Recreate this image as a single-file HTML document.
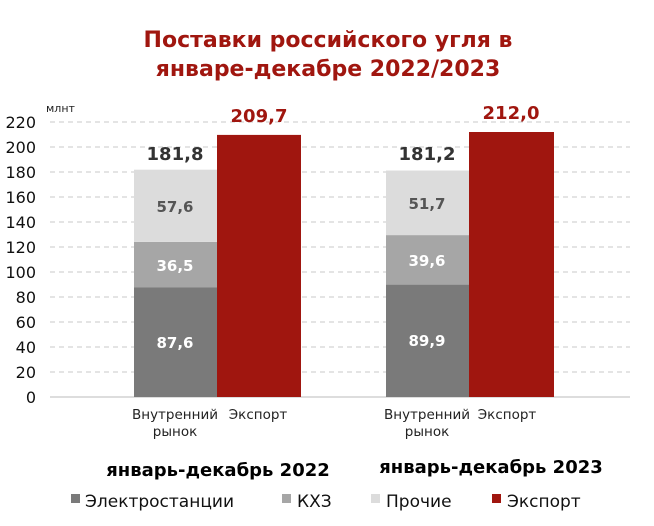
<!DOCTYPE html>
<html><head><meta charset="utf-8"><style>
body{margin:0;background:#fff}
svg text{font-family:"DejaVu Sans","Liberation Sans",sans-serif}
</style></head><body>
<svg width="654" height="521" xmlns="http://www.w3.org/2000/svg">
<text x="328" y="47" text-anchor="middle" font-size="22" font-weight="bold" fill="#a0160f">Поставки российского угля в</text>
<text x="328" y="76" text-anchor="middle" font-size="22" font-weight="bold" fill="#a0160f">январе-декабре 2022/2023</text>
<text x="46" y="112" font-size="11" fill="#222">млнт</text>
<g stroke="#c8c8c8" stroke-width="1" stroke-dasharray="5,4">
<line x1="50" x2="630" y1="122" y2="122"/><line x1="50" x2="630" y1="147" y2="147"/>
<line x1="50" x2="630" y1="172" y2="172"/><line x1="50" x2="630" y1="197" y2="197"/>
<line x1="50" x2="630" y1="222" y2="222"/><line x1="50" x2="630" y1="247" y2="247"/>
<line x1="50" x2="630" y1="272" y2="272"/><line x1="50" x2="630" y1="297" y2="297"/>
<line x1="50" x2="630" y1="322" y2="322"/><line x1="50" x2="630" y1="347" y2="347"/>
<line x1="50" x2="630" y1="372" y2="372"/>
</g>
<line x1="50" x2="630" y1="397" y2="397" stroke="#bbb"/>
<g font-size="16" fill="#111" text-anchor="end">
<text x="36" y="128">220</text><text x="36" y="153">200</text><text x="36" y="178">180</text>
<text x="36" y="203">160</text><text x="36" y="228">140</text><text x="36" y="253">120</text>
<text x="36" y="278">100</text><text x="36" y="303">80</text><text x="36" y="328">60</text>
<text x="36" y="353">40</text><text x="36" y="378">20</text><text x="36" y="403">0</text>
</g>
<rect x="134" y="287.5" width="83" height="109.5" fill="#7a7a7a"/>
<rect x="134" y="241.9" width="83" height="45.6" fill="#a6a6a6"/>
<rect x="134" y="169.7" width="83" height="72.2" fill="#dcdcdc"/>
<rect x="217" y="134.9" width="84" height="262.1" fill="#a0160f"/>
<rect x="386" y="284.6" width="83" height="112.4" fill="#7a7a7a"/>
<rect x="386" y="235.1" width="83" height="49.5" fill="#a6a6a6"/>
<rect x="386" y="170.5" width="83" height="64.6" fill="#dcdcdc"/>
<rect x="469" y="132" width="85" height="265" fill="#a0160f"/>
<g font-size="15" font-weight="bold" text-anchor="middle">
<text x="175" y="348" fill="#fff">87,6</text>
<text x="175" y="271" fill="#fff">36,5</text>
<text x="175" y="212" fill="#555">57,6</text>
<text x="175" y="160" fill="#333" font-size="18">181,8</text>
<text x="259" y="122" fill="#a0160f" font-size="18">209,7</text>
<text x="427" y="346" fill="#fff">89,9</text>
<text x="427" y="266" fill="#fff">39,6</text>
<text x="427" y="209" fill="#555">51,7</text>
<text x="427" y="160" fill="#333" font-size="18">181,2</text>
<text x="511" y="119" fill="#a0160f" font-size="18">212,0</text>
</g>
<g font-size="13.5" fill="#222" text-anchor="middle">
<text x="175" y="419">Внутренний</text><text x="175" y="436">рынок</text>
<text x="258" y="419">Экспорт</text>
<text x="427" y="419">Внутренний</text><text x="427" y="436">рынок</text>
<text x="507" y="419">Экспорт</text>
</g>
<g font-size="18" font-weight="bold" fill="#000" text-anchor="middle">
<text x="218" y="476">январь-декабрь 2022</text>
<text x="491" y="473">январь-декабрь 2023</text>
</g>
<g font-size="17" fill="#111">
<rect x="71" y="494" width="9" height="9" fill="#7a7a7a"/><text x="85" y="507">Электростанции</text>
<rect x="282" y="494" width="9" height="9" fill="#a6a6a6"/><text x="297" y="507">КХЗ</text>
<rect x="371" y="494" width="9" height="9" fill="#dcdcdc"/><text x="386" y="507">Прочие</text>
<rect x="492" y="494" width="9" height="9" fill="#a0160f"/><text x="507" y="507">Экспорт</text>
</g>
</svg>
</body></html>
